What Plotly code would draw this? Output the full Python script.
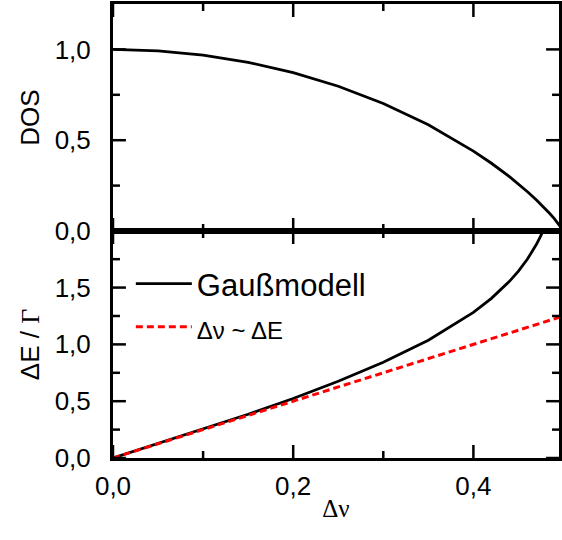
import plotly.graph_objects as go
from plotly.subplots import make_subplots

# Δν values (x axis)
dnu = [0.0, 0.05, 0.10, 0.15, 0.20, 0.25, 0.30, 0.35, 0.40, 0.42, 0.44, 0.45,
       0.46, 0.47, 0.475, 0.48, 0.485, 0.49, 0.495, 0.498, 0.50]
# DOS (top panel)
dos = [1.000, 0.992, 0.968, 0.929, 0.872, 0.797, 0.702, 0.585, 0.440, 0.373,
       0.299, 0.259, 0.216, 0.171, 0.147, 0.121, 0.095, 0.067, 0.036, 0.016, 0.0]
# ΔE/Γ for the Gauß model (bottom panel)
dnu_g = [0.0, 0.05, 0.10, 0.15, 0.20, 0.25, 0.30, 0.35, 0.40, 0.42, 0.44, 0.45,
         0.46, 0.47, 0.475, 0.48]
de_g = [0.000, 0.126, 0.253, 0.385, 0.524, 0.675, 0.842, 1.036, 1.282, 1.405,
        1.555, 1.645, 1.751, 1.881, 1.960, 2.054]
# linear approximation Δν ~ ΔE
dnu_lin = [0.0, 0.5]
de_lin = [0.0, 1.25]

# tick values
x_major = [0.0, 0.2, 0.4]
x_minor = [0.1, 0.3]
y1_major = [0.0, 0.5, 1.0]
y1_minor = [0.25, 0.75]
y2_major = [0.0, 0.5, 1.0, 1.5]
y2_minor = [0.25, 0.75, 1.25, 1.75]

x_range = [0, 0.495]
y1_range = [0, 1.25]
y2_range = [0, 1.998]

W, H = 562, 540
ML, MR, MT, MB = 113, 0, 4, 82
PW = W - ML - MR
PH = (H - MT - MB) / 2
MAJ, MIN = 13, 7
TW = 2.5

fig = make_subplots(rows=2, cols=1, shared_xaxes=True, vertical_spacing=0)

fig.add_trace(go.Scatter(x=dnu, y=dos, mode="lines", showlegend=False,
                         line=dict(color="black", width=2.8)), row=1, col=1)
fig.add_trace(go.Scatter(x=dnu_g, y=de_g, mode="lines", name="Gaußmodell",
                         line=dict(color="black", width=2.8)), row=2, col=1)
fig.add_trace(go.Scatter(x=dnu_lin, y=de_lin, mode="lines",
                         name='<span style="font-size:24px">Δν ~ ΔE</span>',
                         line=dict(color="#ff0000", width=3, dash="7px,4px")),
              row=2, col=1)

lab_font = dict(family="Liberation Sans", size=26, color="black")
axis_style = dict(showline=True, linecolor="black", linewidth=3, mirror=True,
                  ticks="", showgrid=False, zeroline=False, tickfont=lab_font)

fig.update_xaxes(**axis_style)
fig.update_xaxes(range=x_range, tickvals=x_major, tickformat=".1f")
fig.update_xaxes(showticklabels=False, row=1, col=1)
fig.update_xaxes(row=2, col=1, ticklabelstandoff=3,
                 title=dict(text="Δν", standoff=0,
                            font=dict(family="Liberation Serif", size=25,
                                      color="black")))

fig.update_yaxes(**axis_style)
fig.update_yaxes(row=1, col=1, range=y1_range, tickvals=y1_major, tickformat=".1f",
                 ticklabelstandoff=14,
                 title=dict(text="DOS", standoff=8, font=lab_font))
fig.update_yaxes(row=2, col=1, range=y2_range, tickvals=y2_major, tickformat=".1f",
                 ticklabelstandoff=14,
                 title=dict(text='ΔE / <span style="font-family:Liberation Serif">Γ</span>',
                            standoff=8, font=lab_font))

# inward tick marks on all four sides of both panels, placed via axis scales
tick_line = dict(color="black", width=TW)
for xa, ya in (("x", "y"), ("x2", "y2")):
    for vals, ln in ((x_major, MAJ), (x_minor, MIN)):
        for v in vals:
            fig.add_shape(type="line", xref=xa, yref=ya + " domain", layer="above",
                          x0=v, x1=v, y0=0, y1=ln / PH, line=tick_line)
            fig.add_shape(type="line", xref=xa, yref=ya + " domain", layer="above",
                          x0=v, x1=v, y0=1 - ln / PH, y1=1, line=tick_line)
for xa, ya, majv, minv in (("x", "y", y1_major, y1_minor),
                           ("x2", "y2", y2_major, y2_minor)):
    for vals, ln in ((majv, MAJ), (minv, MIN)):
        for v in vals:
            fig.add_shape(type="line", xref=xa + " domain", yref=ya, layer="above",
                          x0=0, x1=ln / PW, y0=v, y1=v, line=tick_line)
            fig.add_shape(type="line", xref=xa + " domain", yref=ya, layer="above",
                          x0=1 - ln / PW, x1=1, y0=v, y1=v, line=tick_line)

fig.update_layout(
    width=W, height=H,
    margin=dict(l=ML, r=MR, t=MT, b=MB),
    paper_bgcolor="white", plot_bgcolor="white",
    separators=",.",
    showlegend=True,
    legend=dict(x=0.04, y=0.443, xanchor="left", yanchor="top",
                bgcolor="rgba(0,0,0,0)", itemwidth=56,
                font=dict(family="Liberation Sans", size=31, color="black")),
)

fig.write_html("out.html")
